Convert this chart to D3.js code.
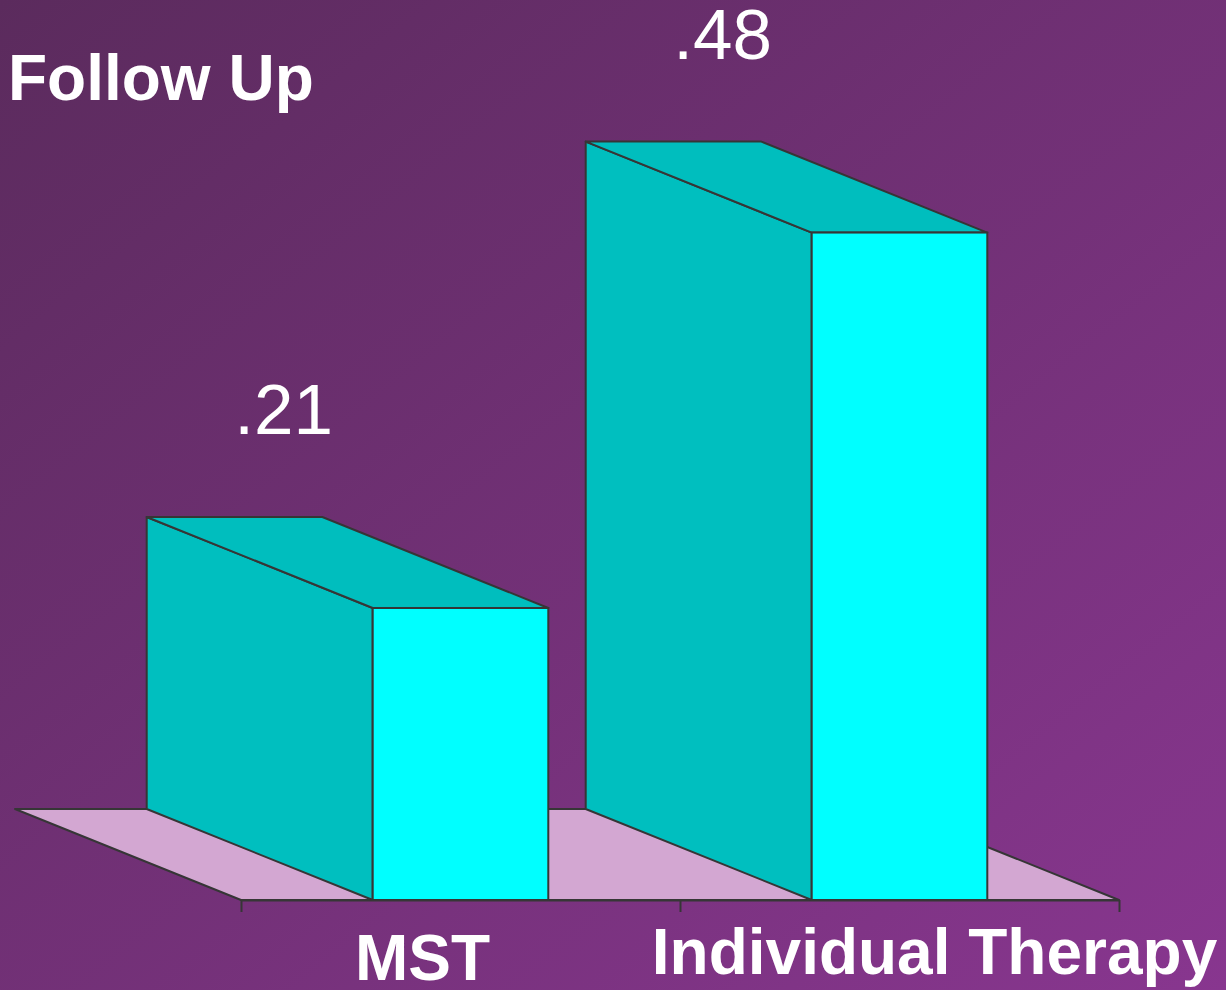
<!DOCTYPE html>
<html>
<head>
<meta charset="utf-8">
<script src="https://cdn.jsdelivr.net/npm/d3@7"></script>
<style>
  html, body { margin: 0; padding: 0; background: #6e3277; }
  svg { display: block; }
</style>
</head>
<body>
<svg id="canvas"></svg>
<script>
// chart data
const categories = ['MST', 'Individual Therapy']
const values = [0.21, 0.48]
const valueLabels = ['.21', '.48']
const title = 'Follow Up'

const width = 1226
const height = 990

const svg = d3.select('#canvas')
    .attr('width', width)
    .attr('height', height)

// background gradient, darker top-left
const defs = svg.append('defs')
const grad = defs.append('linearGradient')
    .attr('id', 'bg')
    .attr('x1', '0%').attr('y1', '0%')
    .attr('x2', '100%').attr('y2', '100%')
grad.append('stop').attr('offset', '0%').attr('stop-color', '#5b2b5d')
grad.append('stop').attr('offset', '100%').attr('stop-color', '#88368f')
svg.append('rect')
    .attr('width', width).attr('height', height)
    .attr('fill', 'url(#bg)')

// scales
const x = d3.scaleBand()
    .domain(categories)
    .range([241, 1119])
    .paddingInner(0)
    .paddingOuter(0)
const y = d3.scaleLinear()
    .domain([0, 0.5])
    .range([900, 900 - 0.5 * 1390.5])

// depth vector of the 3D extrusion (back goes up-left)
const depth = { dx: -226, dy: -91 }
const barW = x.bandwidth() * 0.4
const edge = '#363636'
const strokeW = 2

// floor
const x0 = x.range()[0], x1 = x.range()[1], y0 = y(0)
svg.append('polygon')
    .attr('points', [
        [x0, y0], [x1, y0],
        [x1 + depth.dx, y0 + depth.dy], [x0 + depth.dx, y0 + depth.dy]
    ].map(p => p.join(',')).join(' '))
    .attr('fill', '#d3a7d2')
    .attr('stroke', edge)
    .attr('stroke-width', strokeW)
    .attr('stroke-linejoin', 'round')

// axis along the front edge of the floor, ticks at band boundaries
const tickScale = d3.scaleLinear().domain([0, categories.length]).range([x0, x1])
const axis = svg.append('g')
    .attr('transform', `translate(0,${y0})`)
    .call(d3.axisBottom(tickScale)
        .tickValues(d3.range(categories.length + 1))
        .tickSize(12)
        .tickSizeOuter(0)
        .tickFormat(''))
axis.select('.domain').attr('stroke', edge).attr('stroke-width', strokeW)
axis.selectAll('.tick line').attr('stroke', edge).attr('stroke-width', strokeW)

// bars
const data = categories.map((c, i) => ({ cat: c, value: values[i], label: valueLabels[i] }))
const pts = arr => arr.map(p => p.join(',')).join(' ')

const bars = svg.selectAll('g.bar')
    .data(data)
    .enter()
    .append('g')
    .attr('class', 'bar')

bars.each(function (d) {
    const g = d3.select(this)
    const left = x(d.cat) + (x.bandwidth() - barW) / 2
    const right = left + barW
    const top = y(d.value)
    const bottom = y(0)

    // left side face
    g.append('polygon')
        .attr('points', pts([
            [left, bottom], [left, top],
            [left + depth.dx, top + depth.dy], [left + depth.dx, bottom + depth.dy]
        ]))
        .attr('fill', '#00bfbf')
        .attr('stroke', edge).attr('stroke-width', strokeW)
        .attr('stroke-linejoin', 'round')

    // top face
    g.append('polygon')
        .attr('points', pts([
            [left, top], [right, top],
            [right + depth.dx, top + depth.dy], [left + depth.dx, top + depth.dy]
        ]))
        .attr('fill', '#00bebe')
        .attr('stroke', edge).attr('stroke-width', strokeW)
        .attr('stroke-linejoin', 'round')

    // front face
    g.append('rect')
        .attr('x', left).attr('y', top)
        .attr('width', barW).attr('height', bottom - top)
        .attr('fill', '#00ffff')
        .attr('stroke', edge).attr('stroke-width', strokeW)

    // value label above the bar
    g.append('text')
        .attr('x', left + depth.dx + 137)
        .attr('y', top + depth.dy - 83)
        .attr('text-anchor', 'middle')
        .attr('font-family', 'Liberation Sans, Arial, sans-serif')
        .attr('font-size', 71)
        .attr('fill', '#ffffff')
        .text(d.label)
})

// category labels
const labelDx = [-38, 35]
const labelY = [980, 974]
svg.selectAll('text.cat')
    .data(categories)
    .enter()
    .append('text')
    .attr('class', 'cat')
    .attr('x', (d, i) => x(d) + x.bandwidth() / 2 + labelDx[i])
    .attr('y', (d, i) => labelY[i])
    .attr('text-anchor', 'middle')
    .attr('font-family', 'Liberation Sans, Arial, sans-serif')
    .attr('font-weight', 'bold')
    .attr('font-size', 64)
    .attr('fill', '#ffffff')
    .text(d => d)

// title
svg.append('text')
    .attr('x', 8)
    .attr('y', 100)
    .attr('font-family', 'Liberation Sans, Arial, sans-serif')
    .attr('font-weight', 'bold')
    .attr('font-size', 64)
    .attr('fill', '#ffffff')
    .text(title)
</script>
</body>
</html>
